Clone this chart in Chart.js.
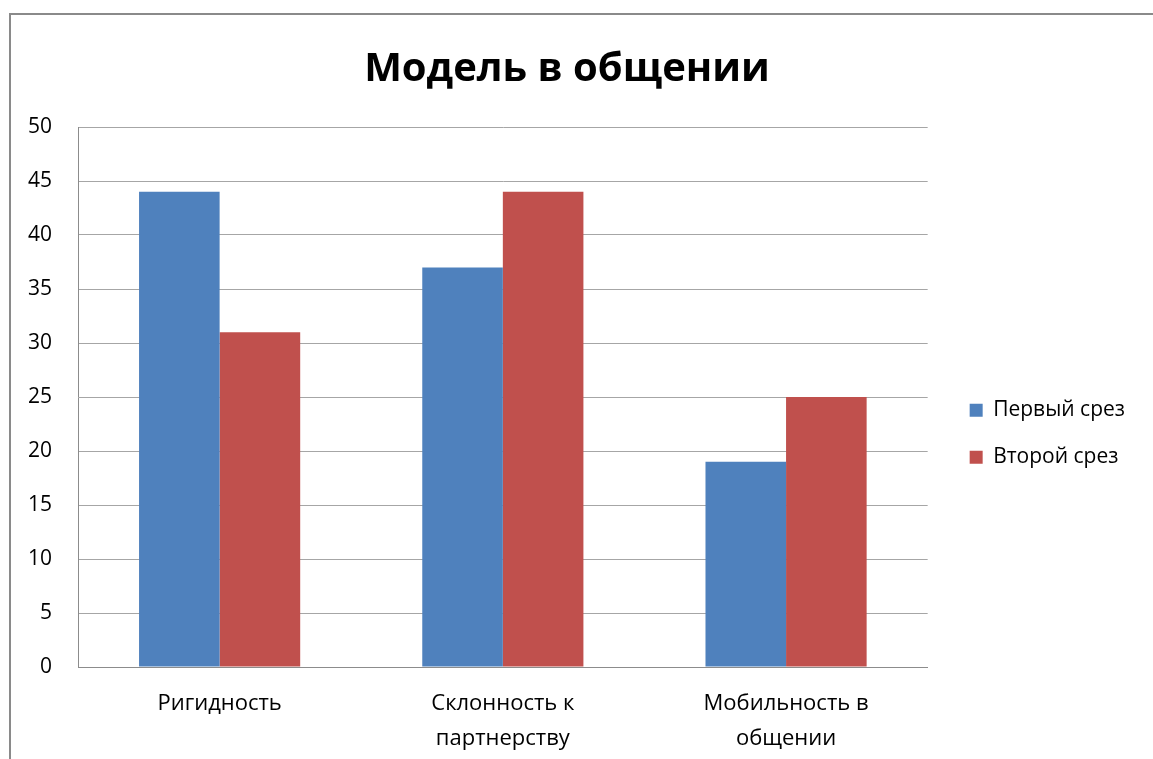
<!DOCTYPE html>
<html lang="ru">
  <head>
    <meta charset="UTF-8" />
    <title>Модель в общении</title>
    <script src="https://cdn.jsdelivr.net/npm/chart.js"></script>
    <style>
      html, body { margin: 0; padding: 0; background: #fff; overflow: hidden; }
      #frame {
        position: absolute; left: 9px; top: 13px; right: -10px; bottom: -10px;
        border-left: 2px solid #8a8a8a; border-top: 2px solid #8a8a8a;
      }
      #wrap { position: absolute; left: 0; top: 0; width: 1153px; height: 759px; }
    </style>
  </head>
  <body>
    <div id="frame"></div>
    <div id="wrap"><canvas id="myChart"></canvas></div>

    <script>
      const categories = [
        "Ригидность",
        ["Склонность к", "партнерству"],
        ["Мобильность в", "общении"],
      ];
      const firstCut = [44, 37, 19];
      const secondCut = [31, 44, 25];
      const yTicks = [0, 5, 10, 15, 20, 25, 30, 35, 40, 45, 50];

      const FONT = "'Open Sans', 'Noto Sans', sans-serif";

      new Chart(document.getElementById("myChart"), {
        type: "bar",
        data: {
          labels: categories,
          datasets: [
            { label: "Первый срез", data: firstCut, backgroundColor: "#4F81BD" },
            { label: "Второй срез", data: secondCut, backgroundColor: "#C0504D" },
          ],
        },
        options: {
          responsive: true,
          maintainAspectRatio: false,
          animation: false,
          categoryPercentage: 0.569,
          barPercentage: 1,
          layout: { padding: { left: 2, right: 21, top: 0, bottom: -16 } },
          scales: {
            x: {
              grid: { display: false, drawTicks: false },
              border: { display: true, color: "#8c8c8c", width: 1 },
              ticks: {
                color: "#000",
                padding: 19,
                font: { family: FONT, size: 22, lineHeight: "35px" },
                maxRotation: 0,
              },
            },
            y: {
              min: 0,
              max: 50,
              afterBuildTicks: (s) => { s.ticks = yTicks.map((v) => ({ value: v })); },
              grid: { color: "#a6a6a6", drawTicks: false },
              border: { display: true, color: "#8c8c8c", width: 1 },
              ticks: {
                color: "#000",
                padding: 26,
                font: { family: FONT, size: 21 },
              },
            },
            gap: {
              position: "right",
              display: true,
              grid: { display: false, drawTicks: false },
              border: { display: false },
              ticks: { display: false },
              afterFit: (s) => { s.width = 16; },
            },
          },
          plugins: {
            title: {
              display: true,
              text: "Модель в общении",
              color: "#000",
              font: { family: FONT, size: 40, weight: "bold", lineHeight: 1.2 },
              padding: { top: 46, bottom: 33 },
            },
            legend: {
              position: "right",
              title: { display: true, text: " ", padding: { top: 78, bottom: 0 } },
              labels: {
                boxWidth: 13,
                boxHeight: 13,
                padding: 26,
                color: "#000",
                font: { family: FONT, size: 21 },
              },
            },
            tooltip: { enabled: false },
          },
        },
      });
    </script>
  </body>
</html>
